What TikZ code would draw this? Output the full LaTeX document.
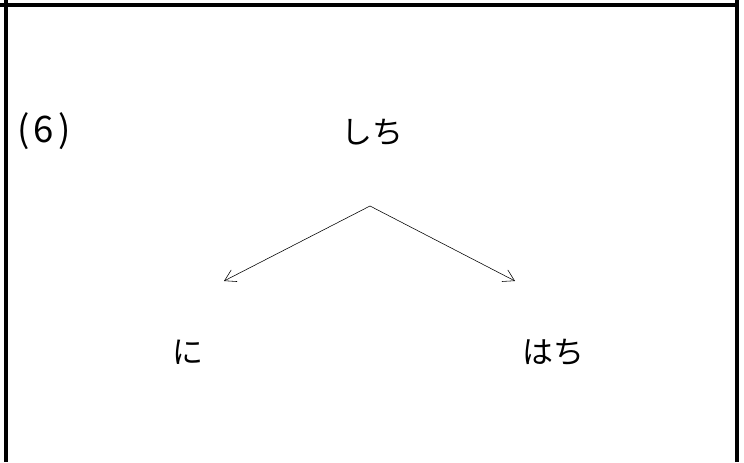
\documentclass[tikz,border=0pt]{standalone}
\usepackage{fontspec}
\newfontfamily\jpfont{Noto Sans CJK JP}
\usetikzlibrary{arrows.meta}

\begin{document}
\begin{tikzpicture}

% === Frame of the table cell ===
\useasboundingbox (0,0) rectangle (18.6,11.55);
\draw[line width=2.3pt] (0.15,0) -- (0.15,11.55);     % left rule
\draw[line width=2.3pt] (18.425,0) -- (18.425,11.55); % right rule
\draw[line width=2.3pt] (0,11.425) -- (18.425,11.425); % top rule

% === Labels ===
\tikzset{kana/.style={font=\jpfont\fontsize{22}{26}\selectfont, inner sep=0pt}}
\node[kana, font=\jpfont\fontsize{26}{30}\selectfont] (num) at (1.1,8.27) {(\kern3pt6\kern3pt)};
\node[kana] (top)   at (9.3,8.25)   {しち};
\node[kana] (left)  at (4.7,2.75)   {に};
\node[kana] (right) at (13.83,2.75) {はち};

% --- Branch points (below top, above the two children) ---
\coordinate (fork)  at (9.25,6.4);
\coordinate (lend)  at (5.6,4.525);
\coordinate (rend)  at (12.875,4.525);

% Arrows
\draw[line width=0.4pt, -{Straight Barb[length=7.8pt, width=9.3pt]}] (fork) -- (lend);
\draw[line width=0.4pt, -{Straight Barb[length=7.8pt, width=9.3pt]}] (fork) -- (rend);

\end{tikzpicture}
\end{document}
